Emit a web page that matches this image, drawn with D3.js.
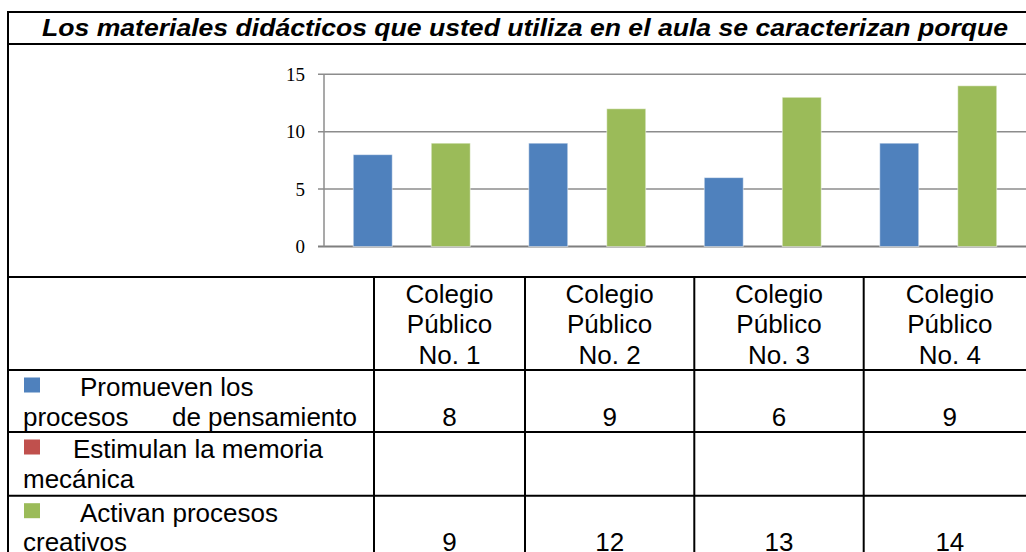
<!DOCTYPE html>
<html>
<head>
<meta charset="utf-8">
<script src="https://cdn.jsdelivr.net/npm/d3@7/dist/d3.min.js"></script>
<style>
  body { margin: 0; background: #fff; }
  svg { display: block; }
</style>
</head>
<body>
<svg id="chart" width="1026" height="552"></svg>
<script>
const title = "Los materiales didácticos que usted utiliza en el aula se caracterizan porque";
const categories = ["Colegio Público No. 1", "Colegio Público No. 2", "Colegio Público No. 3", "Colegio Público No. 4"];
const headerLines = [["Colegio", "Público", "No. 1"], ["Colegio", "Público", "No. 2"], ["Colegio", "Público", "No. 3"], ["Colegio", "Público", "No. 4"]];
const seriesNames = ["Promueven los procesos de pensamiento", "Estimulan la memoria mecánica", "Activan procesos creativos"];
const seriesLines = [["Promueven los", "procesos|de pensamiento"], ["Estimulan la memoria", "mecánica"], ["Activan procesos", "creativos"]];
const promueven = [8, 9, 6, 9];
const estimulan = [null, null, null, null];
const activan = [9, 12, 13, 14];
const seriesColors = ["#4f81bd", "#c0504d", "#9bbb59"];
const yTicks = [0, 5, 10, 15];

const values = [promueven, estimulan, activan];

const svg = d3.select("#chart");
const W = 1026;

// frame + title
const frameLeft = 8, frameTop = 12, titleLine = 44, tableTop = 277;
const lineColor = "#000";

svg.append("line").attr("x1", frameLeft).attr("x2", W).attr("y1", frameTop).attr("y2", frameTop)
  .attr("stroke", lineColor).attr("stroke-width", 2);
svg.append("line").attr("x1", frameLeft).attr("x2", W).attr("y1", titleLine).attr("y2", titleLine)
  .attr("stroke", lineColor).attr("stroke-width", 2);
svg.append("line").attr("x1", frameLeft).attr("x2", frameLeft).attr("y1", frameTop - 1).attr("y2", 552)
  .attr("stroke", lineColor).attr("stroke-width", 2);

// title stretched to the width it has in the reference (x 42 .. 1008)
svg.append("text")
  .attr("x", 42).attr("y", 36)
  .attr("textLength", 966).attr("lengthAdjust", "spacingAndGlyphs")
  .style("font-family", "'Liberation Sans', Arial, sans-serif")
  .style("font-weight", "bold").style("font-style", "italic")
  .style("font-size", "24px")
  .text(title);

// chart
const plotLeft = 324, plotRight = 1026;
const x0 = d3.scaleBand().domain(categories).range([plotLeft, plotRight]).padding(0);
const x1 = d3.scaleBand().domain(seriesNames).range([0, x0.bandwidth()]).paddingInner(0).paddingOuter(0.75);
const y = d3.scaleLinear().domain([0, 15]).range([246.5, 74.3]);

const grid = svg.append("g");
grid.selectAll("line").data(yTicks).join("line")
  .attr("x1", plotLeft - 6).attr("x2", plotRight)
  .attr("y1", d => y(d)).attr("y2", d => y(d))
  .attr("stroke", d => d === 0 ? "#7f7f7f" : "#8c8c8c")
  .attr("stroke-width", d => d === 0 ? 2 : 1.5);

svg.append("line").attr("x1", plotLeft).attr("x2", plotLeft)
  .attr("y1", y(15)).attr("y2", y(0))
  .attr("stroke", "#8c8c8c").attr("stroke-width", 1.5);

svg.append("g").selectAll("text").data(yTicks).join("text")
  .attr("x", 305).attr("y", d => y(d))
  .attr("dy", "0.35em")
  .attr("text-anchor", "end")
  .style("font-family", "'Liberation Serif', 'Times New Roman', serif")
  .style("font-size", "19px")
  .text(d => d);

const bars = [];
values.forEach((vals, si) => {
  vals.forEach((v, ci) => {
    if (v != null) bars.push({ s: si, c: ci, v: v });
  });
});

svg.append("g").selectAll("rect").data(bars).join("rect")
  .attr("x", d => x0(categories[d.c]) + x1(seriesNames[d.s]))
  .attr("width", x1.bandwidth())
  .attr("y", d => y(d.v))
  .attr("height", d => y(0) - y(d.v))
  .attr("fill", d => seriesColors[d.s])
  .attr("stroke", "rgba(255,255,255,0.5)")
  .attr("stroke-width", 1);

// data table
const colEdges = [frameLeft, 374, 525, 694.3, 863.7, 1036];
const rowEdges = [tableTop, 370, 432, 495.7, 559];
const font = "'Liberation Sans', Arial, sans-serif";
const fs = "26px";

const tbl = svg.append("g");
tbl.selectAll("line.h").data(rowEdges).join("line").attr("class", "h")
  .attr("x1", frameLeft).attr("x2", W).attr("y1", d => d).attr("y2", d => d)
  .attr("stroke", lineColor).attr("stroke-width", 2);
tbl.selectAll("line.v").data(colEdges.slice(1)).join("line").attr("class", "v")
  .attr("x1", d => d).attr("x2", d => d).attr("y1", tableTop).attr("y2", 552)
  .attr("stroke", lineColor).attr("stroke-width", 2);

const colCenter = i => (colEdges[i + 1] + colEdges[i + 2]) / 2;

// header
headerLines.forEach((lines, ci) => {
  lines.forEach((ln, li) => {
    tbl.append("text")
      .attr("x", colCenter(ci)).attr("y", tableTop + 25.5 + li * 30.5)
      .attr("text-anchor", "middle")
      .style("font-family", font).style("font-size", fs)
      .text(ln);
  });
});

// series rows
const firstIndent = [80, 73, 80];
seriesLines.forEach((lines, si) => {
  const top = rowEdges[si + 1];
  tbl.append("rect")
    .attr("x", 24).attr("y", top + 7.5).attr("width", 16).attr("height", 15)
    .attr("fill", seriesColors[si]);
  lines.forEach((ln, li) => {
    const yy = top + 26 + li * 29.5;
    if (ln.includes("|")) {
      const [a, b] = ln.split("|");
      tbl.append("text").attr("x", 23).attr("y", yy)
        .style("font-family", font).style("font-size", fs).text(a);
      tbl.append("text").attr("x", 357).attr("y", yy).attr("text-anchor", "end")
        .style("font-family", font).style("font-size", fs).text(b);
    } else {
      tbl.append("text").attr("x", li === 0 ? firstIndent[si] : 23).attr("y", yy)
        .style("font-family", font).style("font-size", fs).text(ln);
    }
  });
  values[si].forEach((v, ci) => {
    if (v == null) return;
    tbl.append("text")
      .attr("x", colCenter(ci)).attr("y", top + 55.5)
      .attr("text-anchor", "middle")
      .style("font-family", font).style("font-size", fs)
      .text(v);
  });
});
</script>
</body>
</html>
